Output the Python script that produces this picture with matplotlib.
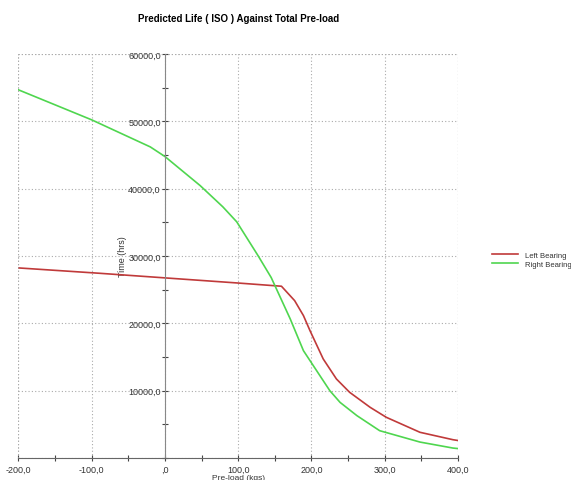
import numpy as np
import matplotlib.pyplot as plt
from matplotlib.ticker import MultipleLocator, FuncFormatter

plt.rcParams['font.family'] = ['Liberation Sans', 'DejaVu Sans']

# data (pre-load vs predicted life)
left_x = [-200, -90, 0, 98, 159, 177, 189, 198, 216, 234, 252, 280, 302, 348, 393, 400]
left_y = [28230, 27440, 26750, 26000, 25510, 23370, 21150, 18900, 14710, 11740, 9760, 7530,
          6050, 3820, 2720, 2600]

right_x = [-200, -100, -20, 0, 48, 79, 98, 127, 145, 171, 189, 207, 225, 239, 262, 293, 348,
           393, 400]
right_y = [54680, 50220, 46200, 44770, 40460, 37300, 35070, 30060, 26800, 20650, 15940, 12970,
           10000, 8260, 6290, 4060, 2370, 1480, 1400]

title = "Predicted Life ( ISO ) Against Total Pre-load"
series_names = ["Left Bearing", "Right Bearing"]


def fmt(v, pos):
    if abs(v) < 1e-9:
        return ",0"
    return f"{v:.1f}".replace(".", ",")


def yfmt(v, pos):
    if abs(v) < 1e-9:
        return ""
    return fmt(v, pos)


fig = plt.figure(figsize=(5.71, 4.81), dpi=100)
ax = fig.add_axes([0.0322, 0.0457, 0.770, 0.840])

l1, = ax.plot(left_x, left_y, color='#c03a3a', lw=1.2)
l2, = ax.plot(right_x, right_y, color='#4fd64f', lw=1.2)

ax.set_xlim(-200, 400)
ax.set_ylim(0, 60000)

for s in ['top', 'right']:
    ax.spines[s].set_visible(False)
ax.spines['left'].set_position(('data', 0))
ax.spines['bottom'].set_position(('data', 0))
ax.spines['left'].set_color('#888888')
ax.spines['bottom'].set_color('#666666')

ax.xaxis.set_major_locator(MultipleLocator(100))
ax.xaxis.set_minor_locator(MultipleLocator(50))
ax.yaxis.set_major_locator(MultipleLocator(10000))
ax.yaxis.set_minor_locator(MultipleLocator(5000))
ax.xaxis.set_major_formatter(FuncFormatter(fmt))
ax.yaxis.set_major_formatter(FuncFormatter(yfmt))

ax.tick_params(which='both', direction='inout', length=4, width=0.8, colors='#444444',
               labelsize=6.5, labelcolor='#333333')
ax.tick_params(axis='x', pad=3)
ax.tick_params(axis='y', pad=1)

ax.grid(True, which='major', linestyle=(0, (1, 2)), color='#aaaaaa', lw=0.8)
ax.set_axisbelow(True)
# outer dotted box
for v in (-200, 400):
    ax.axvline(v, linestyle=(0, (1, 2)), color='#aaaaaa', lw=0.8)
ax.axhline(60000, linestyle=(0, (1, 2)), color='#aaaaaa', lw=0.8)

ax.set_ylabel("Time (hrs)", fontsize=6.5, color='#333333', labelpad=1)
ax.set_xlabel("Pre-load (kgs)", fontsize=6, color='#333333', labelpad=0)

fig.text(0.417, 1 - 19 / 481, title, fontsize=7, fontweight='bold', ha='center', va='center')

fig.legend([l1, l2], series_names, loc='center left', bbox_to_anchor=(0.861, 0.458),
           frameon=False, fontsize=5.5, handlelength=3.4, handletextpad=1.0,
           labelspacing=0.15, labelcolor='#333333', borderpad=0, borderaxespad=0)

fig.savefig("out.png", dpi=100)
